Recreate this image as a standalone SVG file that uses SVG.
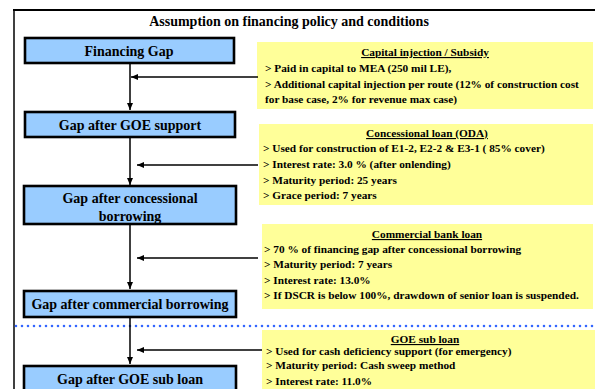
<svg xmlns="http://www.w3.org/2000/svg" width="595" height="389" viewBox="0 0 595 389">
<defs>
<marker id="ah" markerWidth="8" markerHeight="8" refX="7" refY="4" orient="auto" markerUnits="userSpaceOnUse">
<path d="M0,1 L7,4 L0,7 Z" fill="#000"/>
</marker>
<style>
.node rect{fill:#99CCFF;stroke:#000;stroke-width:2.6}
.node text{font-family:"Liberation Serif",serif;font-weight:bold;font-size:14px;text-anchor:middle;fill:#000}
.note rect{fill:#FFFF99;stroke:none}
.note text{font-family:"Liberation Serif",serif;font-weight:bold;font-size:11.3px;fill:#000}
.note .h{text-anchor:middle;text-decoration:underline}
.conn line{stroke:#000;stroke-width:1.5;fill:none}
</style>
</defs>
<rect width="595" height="389" fill="#fff"/>
<g id="frame">
<line x1="13" y1="10" x2="595" y2="10" stroke="#000" stroke-width="2"/>
<line x1="14" y1="9" x2="14" y2="389" stroke="#000" stroke-width="1.5"/>
<text x="289" y="26" font-family="Liberation Serif,serif" font-weight="bold" font-size="14" text-anchor="middle">Assumption on financing policy and conditions</text>
<line x1="16" y1="326" x2="595" y2="326" stroke="#3366FF" stroke-width="2.6" stroke-linecap="round" stroke-dasharray="0 6"/>
</g>
<g id="notes">
<g id="note-capital" class="note">
<rect x="257" y="42" width="336" height="67"/>
<text class="h" x="425" y="56">Capital injection / Subsidy</text>
<text x="265" y="72">&gt; Paid in capital to MEA (250 mil LE),</text>
<text x="265" y="88">&gt; Additional capital injection per route (12% of construction cost</text>
<text x="265" y="103">for base case, 2% for revenue max case)</text>
</g>
<g id="note-oda" class="note">
<rect x="259" y="124" width="334" height="81"/>
<text class="h" x="427" y="137">Concessional loan (ODA)</text>
<text x="263" y="152">&gt; Used for construction of E1-2, E2-2 &amp; E3-1 ( 85% cover)</text>
<text x="263" y="168">&gt; Interest rate: 3.0 % (after onlending)</text>
<text x="263" y="184">&gt; Maturity period: 25 years</text>
<text x="263" y="199">&gt; Grace period: 7 years</text>
</g>
<g id="note-commercial" class="note">
<rect x="262" y="224" width="331" height="85"/>
<text class="h" x="427" y="238">Commercial bank loan</text>
<text x="264" y="253">&gt; 70 % of financing gap after concessional borrowing</text>
<text x="264" y="268">&gt; Maturity period: 7 years</text>
<text x="264" y="284">&gt; Interest rate: 13.0%</text>
<text x="264" y="299">&gt; If DSCR is below 100%, drawdown of senior loan is suspended.</text>
</g>
<g id="note-goe" class="note">
<rect x="262" y="330" width="333" height="59"/>
<text class="h" x="425" y="343">GOE sub loan</text>
<text x="266" y="355">&gt; Used for cash deficiency support  (for emergency)</text>
<text x="266" y="369">&gt; Maturity period: Cash sweep method</text>
<text x="266" y="385">&gt; Interest rate: 11.0%</text>
</g>
</g>
<g id="connectors" class="conn">
<line x1="130" y1="63" x2="130" y2="110" marker-end="url(#ah)"/>
<line x1="130" y1="138" x2="130" y2="185" marker-end="url(#ah)"/>
<line x1="130" y1="224" x2="130" y2="289" marker-end="url(#ah)"/>
<line x1="130" y1="317" x2="130" y2="364" marker-end="url(#ah)"/>
<line x1="258" y1="77" x2="131" y2="77" marker-end="url(#ah)"/>
<line x1="258" y1="165" x2="137" y2="165" marker-end="url(#ah)"/>
<line x1="258" y1="258" x2="137" y2="258" marker-end="url(#ah)"/>
<line x1="262" y1="350" x2="137" y2="350" marker-end="url(#ah)"/>
</g>
<g id="node-financing-gap" class="node">
<rect x="25" y="38" width="209" height="25"/>
<text x="129" y="56">Financing Gap</text>
</g>
<g id="node-goe-support" class="node">
<rect x="25" y="112" width="210" height="25"/>
<text x="130" y="130">Gap after GOE support</text>
</g>
<g id="node-concessional" class="node">
<rect x="24" y="186" width="212" height="38"/>
<text x="130" y="203">Gap after concessional</text>
<text x="130" y="221">borrowing</text>
</g>
<g id="node-commercial" class="node">
<rect x="24" y="291" width="212" height="26"/>
<text x="130" y="309">Gap after commercial borrowing</text>
</g>
<g id="node-goe-sub" class="node">
<rect x="24" y="366" width="212" height="30"/>
<text x="130" y="384">Gap after GOE sub loan</text>
</g>
</svg>
